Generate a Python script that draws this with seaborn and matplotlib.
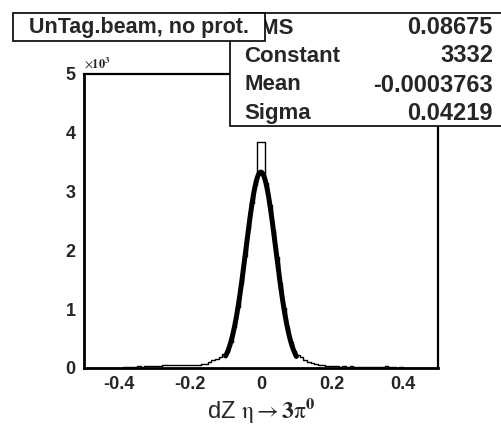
import numpy as np
import pandas as pd
import matplotlib
matplotlib.use("Agg")
import matplotlib.pyplot as plt
from matplotlib.patches import Rectangle
import seaborn as sns

# ---- data ----
bin_lo, bin_hi, bin_w = -0.5, 0.5, 0.01
counts = [
    3, 2, 4, 3, 5, 4, 6, 5, 7, 6, 8, 9, 10, 12, 15,                 # -0.495 .. -0.355
    30, 20, 35, 38, 40, 42, 40, 45, 44, 46, 48, 45, 50, 52, 48, 55, 50, 55,  # -0.345 .. -0.175
    60, 70, 95, 130, 160, 190, 240,                                  # -0.165 .. -0.105
    280, 450, 700, 1030, 1430, 1900, 2370, 2800, 3120,               # -0.095 .. -0.015
    3850, 3850,                                                      # -0.005, 0.005
    3150, 2780, 2340, 1880, 1440, 1020, 690, 440, 290,               # 0.015 .. 0.095
    220, 180, 140, 110, 90, 70, 55, 45, 40, 35,                      # 0.105 .. 0.195
    30, 30, 25, 28, 22, 30, 20, 25, 18, 22, 15, 20, 25, 18, 20,      # 0.205 .. 0.345
    30, 10, 25, 8, 12, 6, 5, 4, 3, 5, 2, 3, 2, 1, 2,                 # 0.355 .. 0.495
]
stat_names = ["RMS", "Constant", "Mean", "Sigma"]
stat_values = ["0.08675", "3332", "-0.0003763", "0.04219"]
fit_constant, fit_mean, fit_sigma = 3332, -0.0003763, 0.04219
fit_range = (-0.1, 0.1)
xticks = [-0.4, -0.2, 0, 0.2, 0.4]
xtick_labels = ["-0.4", "-0.2", "0", "0.2", "0.4"]
yticks = [0, 1000, 2000, 3000, 4000, 5000]
ytick_labels = ["0", "1", "2", "3", "4", "5"]
title = "UnTag.beam, no prot."
xlabel = r"dZ $\mathrm{\eta} \rightarrow \mathbf{3}\mathrm{\pi}^{\mathbf{0}}$"

centers = np.round(bin_lo + bin_w / 2 + bin_w * np.arange(len(counts)), 4)
df = pd.DataFrame({"dz": centers, "n": counts})

xf = np.linspace(fit_range[0], fit_range[1], 300)
fit_df = pd.DataFrame({"x": xf,
                       "y": fit_constant * np.exp(-0.5 * ((xf - fit_mean) / fit_sigma) ** 2)})

sns.set_style("white")
plt.rcParams["font.family"] = ["Liberation Sans", "DejaVu Sans"]
plt.rcParams["mathtext.fontset"] = "stix"

fig = plt.figure(figsize=(5.01, 4.25), dpi=100)
ax = fig.add_axes([84 / 501, 57 / 425, 354 / 501, 294 / 425])

sns.histplot(data=df, x="dz", weights="n", binwidth=bin_w, binrange=(bin_lo, bin_hi),
             element="step", fill=False, color="black", linewidth=1.0, ax=ax)
sns.lineplot(data=fit_df, x="x", y="y", color="black", linewidth=3.6, ax=ax)

ax.set_xlim(bin_lo, bin_hi)
ax.set_ylim(0, 5000)
ax.set_xticks(xticks)
ax.set_xticklabels(xtick_labels, fontsize=13, fontweight="bold")
ax.set_yticks(yticks)
ax.set_yticklabels(ytick_labels, fontsize=13, fontweight="bold")
ax.tick_params(axis="both", direction="in", length=8, width=1.0, color="black", pad=6)
ax.set_xlabel(xlabel, fontsize=17, labelpad=2)
ax.set_ylabel("")
for s in ax.spines.values():
    s.set_color("black")
    s.set_linewidth(1.6)
ax.spines["left"].set_linewidth(2.0)
ax.spines["bottom"].set_linewidth(2.0)
ax.text(0.0, 1.01, r"$\times\mathbf{10^{3}}$", transform=ax.transAxes, fontsize=9,
        ha="left", va="bottom")

# stats box
fig.patches.append(Rectangle((230 / 501, 1 - 126 / 425), 300 / 501, 113 / 425,
                             transform=fig.transFigure, facecolor="white",
                             edgecolor="black", linewidth=1.2, zorder=5))
rows_y = [28, 56, 85, 113]
for nm, val, yy in zip(stat_names, stat_values, rows_y):
    fig.text(244 / 501, 1 - yy / 425, nm, fontsize=16, fontweight="bold",
             ha="left", va="center", zorder=6)
    fig.text(493 / 501, 1 - yy / 425, val, fontsize=17, fontweight="bold",
             ha="right", va="center", zorder=6)

# title box
fig.patches.append(Rectangle((13 / 501, 1 - 41 / 425), 252 / 501, 28 / 425,
                             transform=fig.transFigure, facecolor="white",
                             edgecolor="black", linewidth=1.2, zorder=7))
fig.text(139 / 501, 1 - 27 / 425, title, fontsize=15.5, fontweight="bold",
         ha="center", va="center", zorder=8)

fig.savefig("out.png", dpi=100, facecolor="white")
